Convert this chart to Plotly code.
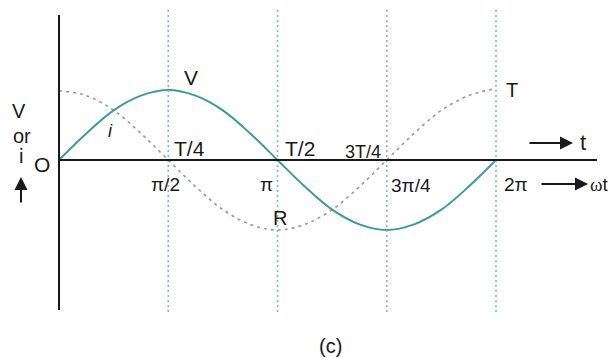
import numpy as np
import plotly.graph_objects as go

# phase angle samples (in units of pi/8) and readings
phase_eighths = list(range(17))
v_values = [0, 0.38, 0.71, 0.92, 1.0, 0.92, 0.71, 0.38, 0, -0.38, -0.71, -0.92, -1.0, -0.92, -0.71, -0.38, 0]
i_values = [0.99, 0.92, 0.71, 0.38, 0, -0.38, -0.71, -0.92, -1.0, -0.92, -0.71, -0.38, 0, 0.38, 0.71, 0.92, 1.02]

tick_pos = [np.pi / 2, np.pi, 3 * np.pi / 2, 2 * np.pi]
wt_labels = ["π/2", "π", "3π/4", "2π"]
t_labels = ["T/4", "T/2", "3T/4", ""]

x = [k * np.pi / 8 for k in phase_eighths]

W, H = 609, 358
X0PX, X2PX, Y0PX, UNITPX = 59, 496, 160, 70
sx = 2 * np.pi / (X2PX - X0PX)
xr = [-X0PX * sx, (W - X0PX) * sx]
yr = [-(H - Y0PX) / UNITPX, Y0PX / UNITPX]

def px_x(p):
    return (p - X0PX) * sx

def px_y(p):
    return (Y0PX - p) / UNITPX

teal = "#3d9aa2"
fig = go.Figure()

# vertical dotted guides
for tp in tick_pos:
    fig.add_shape(type="line", x0=tp, x1=tp, y0=px_y(10), y1=px_y(312),
                  line=dict(color="#7fb9c2", width=1.6, dash="2px,3px"))

fig.add_trace(go.Scatter(x=x, y=i_values, mode="lines", line_shape="spline",
                         line=dict(color="#9a9a9a", width=1.6, dash="3px,4px"),
                         hoverinfo="skip", showlegend=False))
fig.add_trace(go.Scatter(x=x, y=v_values, mode="lines", line_shape="spline",
                         line=dict(color=teal, width=2),
                         hoverinfo="skip", showlegend=False))

# axes
fig.add_shape(type="line", x0=0, x1=0, y0=px_y(15), y1=px_y(310),
              line=dict(color="#1a1a1a", width=2))
fig.add_shape(type="line", x0=0, x1=px_x(597), y0=0, y1=0,
              line=dict(color="#1a1a1a", width=2))

font = dict(family="Liberation Sans, Arial, sans-serif", color="#1a1a1a")

def txt(xx, yy, s, size=16, xanchor="center", yanchor="middle", italic=False):
    fig.add_annotation(x=xx, y=yy, text=(f"<i>{s}</i>" if italic else s), showarrow=False,
                       xanchor=xanchor, yanchor=yanchor, font=dict(size=size, **font))

# T labels: first two to the right of their guide, 3T/4 to the left
txt(tick_pos[0] + px_x(59 + 4), px_y(148), t_labels[0], size=21, xanchor="left")
txt(tick_pos[1] + px_x(59 + 5), px_y(148), t_labels[1], size=21, xanchor="left")
txt(tick_pos[2] - px_x(59 + 4) + 0, px_y(152), t_labels[2], size=18, xanchor="right")

txt(px_x(165), px_y(184), wt_labels[0], size=19)
txt(px_x(266), px_y(184), wt_labels[1], size=19)
txt(px_x(411), px_y(185), wt_labels[2], size=19)
txt(px_x(516), px_y(184), wt_labels[3], size=19)

txt(px_x(191), px_y(77), "V", size=21)
txt(px_x(110), px_y(131), "i", size=18, italic=True)
txt(px_x(42), px_y(164), "O", size=21)
txt(px_x(512), px_y(90), "T", size=20)
txt(px_x(280), px_y(218), "R", size=20)
txt(px_x(19), px_y(111), "V", size=20)
txt(px_x(22), px_y(136), "or", size=20)
txt(px_x(21), px_y(156), "i", size=20)
txt(px_x(583), px_y(142), "t", size=22)
fig.add_annotation(x=px_x(588), y=px_y(184), text="<span style='font-family:Liberation Serif'>ω</span>t",
                   showarrow=False, xanchor="left", yanchor="middle", font=dict(size=19, **font))
txt(px_x(330), px_y(346), "(c)", size=20)

def arrow(x1, y1, x0, y0):
    fig.add_annotation(x=px_x(x1), y=px_y(y1), ax=px_x(x0), ay=px_y(y0),
                       axref="x", ayref="y", xref="x", yref="y", text="",
                       showarrow=True, arrowhead=2, arrowsize=1.3, arrowwidth=2,
                       arrowcolor="#1a1a1a")

arrow(573, 143, 528, 143)
arrow(588, 184, 540, 184)
arrow(21, 177, 21, 204)

fig.update_layout(width=W, height=H, margin=dict(l=0, r=0, t=0, b=0),
                  plot_bgcolor="white", paper_bgcolor="white",
                  xaxis=dict(range=xr, visible=False, fixedrange=True),
                  yaxis=dict(range=yr, visible=False, fixedrange=True))
fig.write_html("out.html", config={"displayModeBar": False},
               post_script="document.body.style.margin='0';document.body.style.overflow='hidden';")
